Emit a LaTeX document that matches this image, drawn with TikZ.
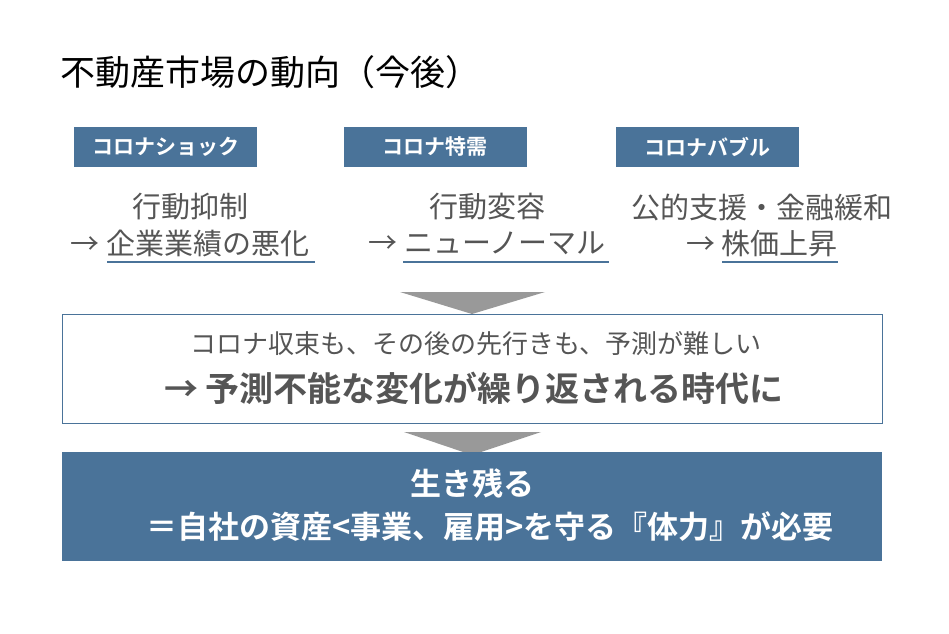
\documentclass[tikz,border=0pt]{standalone}
\usepackage{fontspec}
\setmainfont{Noto Sans CJK JP}
\newfontfamily\bfcjk{Noto Sans CJK JP Bold}
\definecolor{sb}{HTML}{4A7399}
\definecolor{tx}{HTML}{555555}
\begin{document}
\begin{tikzpicture}[x=1pt,y=-1pt,
  lab/.style={fill=sb,text=white,font=\bfcjk\fontsize{21}{23}\selectfont,minimum width=183pt,minimum height=40pt,inner sep=0},
  txt/.style={text=tx,font=\fontsize{29}{31}\selectfont,inner sep=0},
  ul/.style={draw=sb,line width=2.5pt}]
\useasboundingbox (0,0) rectangle (949,633);
\node[anchor=west,inner sep=0,font=\fontsize{35}{37}\selectfont] (title) at (60,72) {不動産市場の動向（今後）};
\node[lab] (l1) at (165.5,147) {コロナショック};
\node[lab] (l2) at (435,147) {コロナ特需};
\node[lab] (l3) at (707.5,147) {コロナバブル};
\node[txt] (a1) at (190,207) {行動抑制};
\node[txt] (b1) at (190,243) {→ 企業業績の悪化};
\node[txt] (a2) at (487,207) {行動変容};
\node[txt] (b2) at (487,243) {→ ニューノーマル};
\node[txt] (a3) at (762,207) {公的支援・金融緩和};
\node[txt] (b3) at (762,243) {→ 株価上昇};
\coordinate (u1a) at (107,262); \coordinate (u1b) at (315,262);
\coordinate (u2a) at (403,262); \coordinate (u2b) at (609,262);
\coordinate (u3a) at (722,262); \coordinate (u3b) at (838,262);
\draw[ul] (u1a) -- (u1b); \draw[ul] (u2a) -- (u2b); \draw[ul] (u3a) -- (u3b);
\fill[gray!80] (400,292) -- (545,292) -- (472,314) -- cycle;
\node[draw=sb,line width=1pt,minimum width=820pt,minimum height=109pt,inner sep=0] (box2) at (472,368.5) {};
\node[txt,font=\fontsize{26}{28}\selectfont] (m1) at (476,344) {コロナ収束も、その後の先行きも、予測が難しい};
\node[txt,font=\bfcjk\fontsize{34}{36}\selectfont] (m2) at (474,388) {→ 予測不能な変化が繰り返される時代に};
\fill[gray!80] (404,432) -- (541,432) -- (472,455) -- cycle;
\node[fill=sb,minimum width=820pt,minimum height=109pt,inner sep=0] (box3) at (472,506.5) {};
\node[text=white,inner sep=0,font=\bfcjk\fontsize{31}{33}\selectfont] (n1) at (472,484) {生き残る};
\node[text=white,inner sep=0,font=\bfcjk\fontsize{31}{33}\selectfont] (n2) at (490,527) {＝自社の資産<事業、雇用>を守る『体力』が必要};
\end{tikzpicture}
\end{document}
